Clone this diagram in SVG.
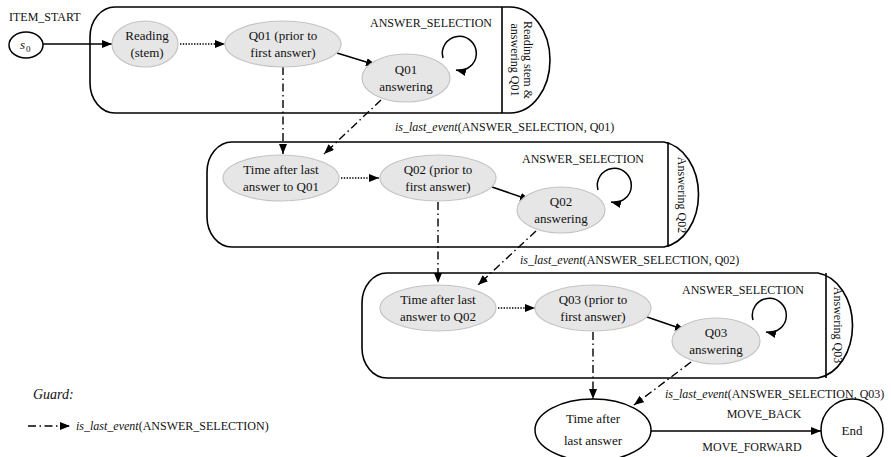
<svg xmlns="http://www.w3.org/2000/svg" width="891" height="457" viewBox="0 0 891 457" font-family="'Liberation Serif', 'Times New Roman', serif">
  <style>
    text { font-family: "Liberation Serif", "Times New Roman", serif; fill: #111; }
    .n { font-size: 13px; text-anchor: middle; }
    .ev { font-size: 12px; }
    .lbl { font-size: 12px; }
    .it { font-style: italic; }
    .state { fill: #e6e6e6; stroke: #c4c4c4; stroke-width: 1.2; }
    .plain { fill: #fff; stroke: #000; stroke-width: 1.5; }
    .box { fill: none; stroke: #000; stroke-width: 1.6; }
    .solid { fill: none; stroke: #000; stroke-width: 1.5; marker-end: url(#ah); }
    .dot { fill: none; stroke: #000; stroke-width: 1.5; stroke-dasharray: 1.4 1.4; marker-end: url(#ah); }
    .dd { fill: none; stroke: #000; stroke-width: 1.4; stroke-dasharray: 8 3.5 1.5 3.5; marker-end: url(#ah); }
  </style>
  <defs>
    <marker id="ah" viewBox="0 0 10 8" refX="10" refY="4" markerWidth="10" markerHeight="8" markerUnits="userSpaceOnUse" orient="auto">
      <path d="M0,0 L10,4 L0,8 Z" fill="#000"/>
    </marker>
  </defs>

  <!-- composite state frames -->
  <g id="frame-q01">
    <path class="box" d="M115,7 H510 A40,53 0 0 1 510,113 H115 A25,30 0 0 1 90,83 V37 A25,30 0 0 1 115,7 Z"/>
    <line class="box" x1="502" y1="7" x2="502" y2="113"/>
    <text class="lbl" transform="translate(524,60) rotate(90)" text-anchor="middle">Reading stem &amp;</text>
    <text class="lbl" transform="translate(511,60) rotate(90)" text-anchor="middle">answering Q01</text>
  </g>
  <g id="frame-q02">
    <path class="box" d="M232,142 H664 A40,53 0 0 1 664,247 H232 A25,30 0 0 1 207,217 V172 A25,30 0 0 1 232,142 Z"/>
    <line class="box" x1="668" y1="142" x2="668" y2="247"/>
    <text class="lbl" transform="translate(678,195) rotate(90)" text-anchor="middle">Answering Q02</text>
  </g>
  <g id="frame-q03">
    <path class="box" d="M387,273 H818 A40,53 0 0 1 818,378 H387 A25,30 0 0 1 362,348 V303 A25,30 0 0 1 387,273 Z"/>
    <line class="box" x1="826" y1="273" x2="826" y2="378"/>
    <text class="lbl" transform="translate(834,325) rotate(90)" text-anchor="middle">Answering Q03</text>
  </g>

  <!-- connectors -->
  <g id="connectors">
    <line class="solid" x1="43" y1="44" x2="112" y2="44"/>
    <line class="dot" x1="180" y1="44" x2="225" y2="44"/>
    <line class="solid" x1="337" y1="53" x2="376" y2="65"/>
    <path class="solid" d="M443,58 A17,17 0 1 1 456,70"/>
    <line class="dd" x1="283" y1="67" x2="283" y2="154"/>
    <line class="dd" x1="381" y1="100" x2="324" y2="154"/>

    <line class="dot" x1="341" y1="178" x2="379" y2="178"/>
    <line class="solid" x1="492" y1="187" x2="530" y2="200"/>
    <path class="solid" d="M598,190 A17,17 0 1 1 611,202"/>
    <line class="dd" x1="438" y1="202" x2="438" y2="283"/>
    <line class="dd" x1="536" y1="231" x2="478" y2="285"/>

    <line class="dot" x1="498" y1="308" x2="535" y2="308"/>
    <line class="solid" x1="647" y1="317" x2="685" y2="330"/>
    <path class="solid" d="M753,320 A17,17 0 1 1 766,332"/>
    <line class="dd" x1="593" y1="332" x2="593" y2="399"/>
    <line class="dd" x1="691" y1="362" x2="634" y2="405"/>

    <line class="solid" x1="651" y1="431" x2="821" y2="431"/>

    <!-- legend -->
    <line class="dd" x1="28" y1="426" x2="70" y2="426"/>
  </g>

  <!-- event labels -->
  <g id="labels">
    <text class="ev" x="9" y="21">ITEM_START</text>
    <text class="ev" x="370" y="27">ANSWER_SELECTION</text>
    <text class="ev" x="522" y="163">ANSWER_SELECTION</text>
    <text class="ev" x="682" y="294">ANSWER_SELECTION</text>
    <text class="ev" x="395" y="131"><tspan class="it">is_last_event</tspan>(ANSWER_SELECTION, Q01)</text>
    <text class="ev" x="520" y="264"><tspan class="it">is_last_event</tspan>(ANSWER_SELECTION, Q02)</text>
    <text class="ev" x="665" y="398"><tspan class="it">is_last_event</tspan>(ANSWER_SELECTION, Q03)</text>
    <text class="ev" x="764" y="418" text-anchor="middle">MOVE_BACK</text>
    <text class="ev" x="752" y="451" text-anchor="middle">MOVE_FORWARD</text>
    <text x="33" y="399" class="it" font-size="14">Guard:</text>
    <text class="ev" x="76" y="430"><tspan class="it">is_last_event</tspan>(ANSWER_SELECTION)</text>
  </g>

  <!-- states -->
  <g id="s0">
    <ellipse class="plain" cx="26" cy="45" rx="17" ry="13"/>
    <text x="20" y="49" class="it" font-size="13">s</text>
    <text x="26" y="52" font-size="9">0</text>
  </g>
  <g id="reading">
    <ellipse class="state" cx="145" cy="44" rx="33" ry="23"/>
    <text class="n" x="147" y="40">Reading</text>
    <text class="n" x="147" y="57">(stem)</text>
  </g>
  <g id="q01-prior">
    <ellipse class="state" cx="283" cy="44" rx="58" ry="23"/>
    <text class="n" x="283" y="40">Q01 (prior to</text>
    <text class="n" x="283" y="57">first answer)</text>
  </g>
  <g id="q01-answering">
    <ellipse class="state" cx="406" cy="78" rx="44" ry="24"/>
    <text class="n" x="406" y="74">Q01</text>
    <text class="n" x="406" y="91">answering</text>
  </g>
  <g id="after-q01">
    <ellipse class="state" cx="281" cy="178" rx="58" ry="23"/>
    <text class="n" x="281" y="174">Time after last</text>
    <text class="n" x="281" y="191">answer to Q01</text>
  </g>
  <g id="q02-prior">
    <ellipse class="state" cx="438" cy="178" rx="58" ry="23"/>
    <text class="n" x="438" y="174">Q02 (prior to</text>
    <text class="n" x="438" y="191">first answer)</text>
  </g>
  <g id="q02-answering">
    <ellipse class="state" cx="561" cy="210" rx="44" ry="23"/>
    <text class="n" x="561" y="206">Q02</text>
    <text class="n" x="561" y="223">answering</text>
  </g>
  <g id="after-q02">
    <ellipse class="state" cx="438" cy="308" rx="58" ry="23"/>
    <text class="n" x="438" y="304">Time after last</text>
    <text class="n" x="438" y="321">answer to Q02</text>
  </g>
  <g id="q03-prior">
    <ellipse class="state" cx="593" cy="308" rx="58" ry="23"/>
    <text class="n" x="593" y="304">Q03 (prior to</text>
    <text class="n" x="593" y="321">first answer)</text>
  </g>
  <g id="q03-answering">
    <ellipse class="state" cx="716" cy="341" rx="44" ry="23"/>
    <text class="n" x="716" y="337">Q03</text>
    <text class="n" x="716" y="354">answering</text>
  </g>
  <g id="after-last">
    <ellipse class="plain" cx="593" cy="430" rx="58" ry="31"/>
    <text class="n" x="593" y="423">Time after</text>
    <text class="n" x="593" y="445">last answer</text>
  </g>
  <g id="end">
    <ellipse class="plain" cx="852" cy="430" rx="31" ry="31"/>
    <text class="n" x="852" y="435">End</text>
  </g>
</svg>
